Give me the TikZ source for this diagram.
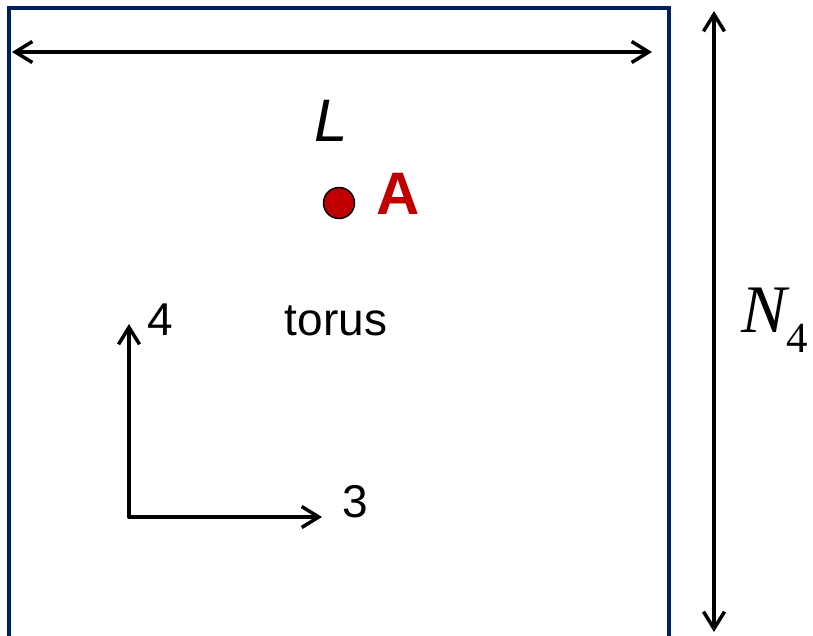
\documentclass[tikz,border=0pt]{standalone}
\usepackage{fontspec}
\setmainfont{Liberation Sans}
\newfontfamily\timesf{Liberation Serif}
\usetikzlibrary{arrows.meta}
\definecolor{boxblue}{RGB}{0,32,96}
\definecolor{darkred}{RGB}{192,0,0}
\tikzset{
  dimarrow/.style={draw=black, line width=3.5pt, line cap=round, line join=round,
    {Straight Barb[length=17pt,width=21pt]}-{Straight Barb[length=17pt,width=21pt]}},
  axisarrow/.style={draw=black, line width=3.5pt, line cap=round, line join=round,
    -{Straight Barb[length=17pt,width=21pt]}},
  frameline/.style={draw=boxblue, line width=3.5pt},
  lbl/.style={inner sep=0pt, anchor=base},
}
\begin{document}
\begin{tikzpicture}[x=1pt,y=-1pt]
\useasboundingbox (0,0) rectangle (813,635);
\clip (0,0) rectangle (813,635);
% torus frame (open at bottom)
\coordinate (fbl) at (9,645);
\coordinate (ftl) at (9,8);
\coordinate (ftr) at (669,8);
\coordinate (fbr) at (669,645);
\draw[frameline] (fbl) -- (ftl) -- (ftr) -- (fbr);
% L dimension
\coordinate (lL) at (12,52);
\coordinate (lR) at (652,52);
\draw[dimarrow] (lL) -- (lR);
% N4 dimension
\coordinate (nT) at (714,11);
\coordinate (nB) at (714,632);
\draw[dimarrow] (nT) -- (nB);
% axes
\coordinate (org) at (129,517);
\coordinate (ax4) at (129,324);
\coordinate (ax3) at (322,517);
\draw[axisarrow] (org) -- (ax4);
\draw[axisarrow] (org) -- (ax3);
% labels
\node[lbl, font=\fontsize{60}{60}\selectfont\itshape] (Llab) at (331,141) {L};
\node[circle, draw=black, line width=1.5pt, fill=darkred, minimum size=31pt, inner sep=0pt] (dotA) at (339,203) {};
\node[lbl, font=\fontsize{60}{60}\selectfont\bfseries, text=darkred] (Alab) at (398,214) {A};
\node[lbl, font=\fontsize{46}{46}\selectfont] (torus) at (336,335) {torus};
\node[lbl, font=\fontsize{46}{46}\selectfont] (l4) at (160,335) {4};
\node[lbl, font=\fontsize{46}{46}\selectfont] (l3) at (355,517) {3};
\node[inner sep=0pt, anchor=base west] (N4) at (741,332)
  {{\timesf\fontsize{68}{68}\selectfont\itshape N}{\timesf\fontsize{43}{43}\selectfont\raisebox{-20pt}{4}}};
\end{tikzpicture}
\end{document}
